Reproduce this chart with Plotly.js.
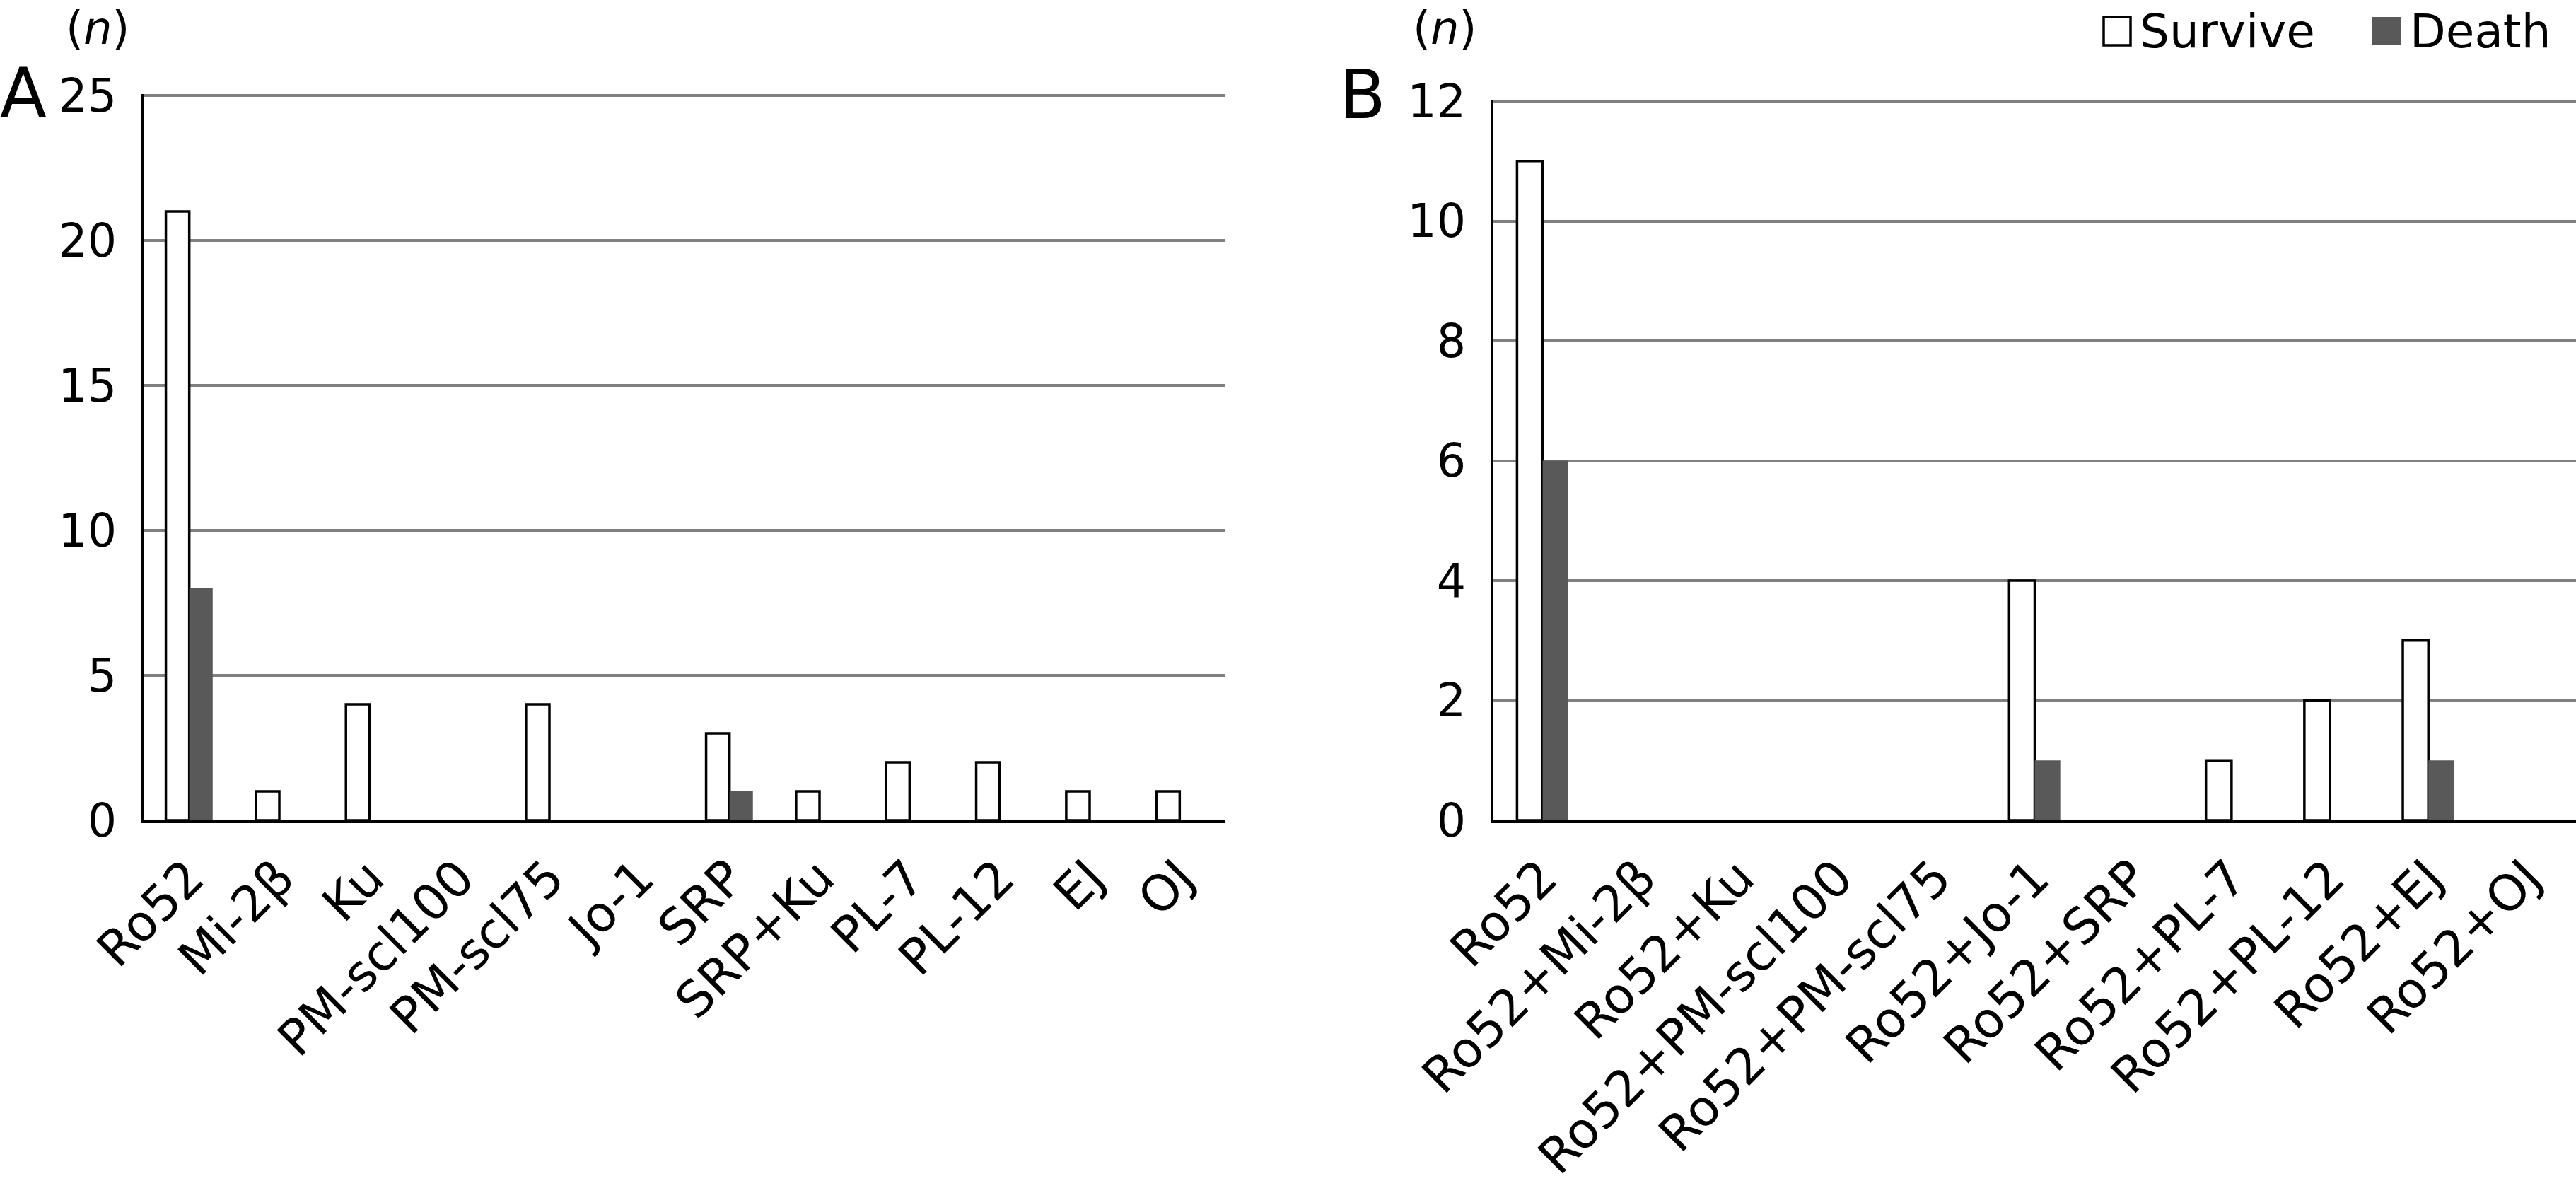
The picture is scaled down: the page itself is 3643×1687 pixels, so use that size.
<!DOCTYPE html>
<html>
<head>
<meta charset="utf-8">
<script src="https://cdn.plot.ly/plotly-3.0.1.min.js"></script>
<style>html,body{margin:0;padding:0;background:#fff;overflow:hidden;}#chart{width:3643px;height:1687px;}</style>
</head>
<body>
<div id="chart"></div>
<script>
// ---- data ----
const categoriesA = ['Ro52','Mi-2β','Ku','PM-scl100','PM-scl75','Jo-1','SRP','SRP+Ku','PL-7','PL-12','EJ','OJ'];
const surviveA = [21,1,4,0,4,0,3,1,2,2,1,1];
const deathA   = [8,0,0,0,0,0,1,0,0,0,0,0];

const categoriesB = ['Ro52','Ro52+Mi-2β','Ro52+Ku','Ro52+PM-scl100','Ro52+PM-scl75','Ro52+Jo-1','Ro52+SRP','Ro52+PL-7','Ro52+PL-12','Ro52+EJ','Ro52+OJ'];
const surviveB = [11,0,0,0,0,4,0,1,2,3,0];
const deathB   = [6,0,0,0,0,1,0,0,0,1,0];

const seriesNames = ['Survive','Death'];
const yTicksA = [0,5,10,15,20,25];
const yTicksB = [0,2,4,6,8,10,12];

// ---- layout helpers ----
const W = 3643, H = 1687;
const px = x => x / W;
const py = y => 1 - y / H;
const FONT = 'DejaVu Sans, Verdana, sans-serif';
const DEATH_COLOR = '#595959';
const GRID = '#808080';

// outline only for non-empty bars (zero-height bars show nothing in the reference)
const surviveStyle = vals => ({color: '#ffffff', line: {color: '#000000', width: vals.map(v => v > 0 ? 3.5 : 0)}});
const deathStyle = () => ({color: DEATH_COLOR, line: {color: DEATH_COLOR, width: 0}});

const traces = [
  {type: 'bar', x: categoriesA, y: surviveA, name: seriesNames[0], marker: surviveStyle(surviveA), xaxis: 'x', yaxis: 'y'},
  {type: 'bar', x: categoriesA, y: deathA, name: seriesNames[1], marker: deathStyle(), xaxis: 'x', yaxis: 'y'},
  {type: 'bar', x: categoriesB, y: surviveB, name: seriesNames[0], marker: surviveStyle(surviveB), xaxis: 'x2', yaxis: 'y2'},
  {type: 'bar', x: categoriesB, y: deathB, name: seriesNames[1], marker: deathStyle(), xaxis: 'x2', yaxis: 'y2'}
];

const xCommon = {
  type: 'category', showgrid: false, zeroline: false,
  showline: true, linecolor: '#000', linewidth: 4,
  ticks: '', tickangle: -45, ticklabelstandoff: 8,
  tickfont: {family: FONT, size: 70, color: '#000'},
  automargin: false, fixedrange: true
};
const yCommon = {
  showgrid: true, gridcolor: GRID, gridwidth: 4,
  zeroline: false, showline: true, linecolor: '#000', linewidth: 4,
  ticks: '', ticklabelstandoff: 22,
  tickfont: {family: FONT, size: 65, color: '#000'},
  automargin: false, fixedrange: true
};

const ann = (text, x, y, xanchor, size) => ({
  text: text, xref: 'paper', yref: 'paper', x: px(x), y: py(y),
  xanchor: xanchor, yanchor: 'middle', showarrow: false,
  font: {family: FONT, size: size, color: '#000'}
});

const layout = {
  width: W, height: H,
  margin: {l: 0, r: 0, t: 0, b: 0, pad: 0},
  paper_bgcolor: '#fff', plot_bgcolor: '#fff',
  font: {family: FONT, color: '#000'},
  barmode: 'group', bargap: 0.48, bargroupgap: 0,
  showlegend: false,
  xaxis: Object.assign({}, xCommon, {domain: [px(204), px(1732)], anchor: 'y'}),
  yaxis: Object.assign({}, yCommon, {domain: [py(1160), py(132.5)], range: [0, 25.06], tickvals: yTicksA, anchor: 'x'}),
  xaxis2: Object.assign({}, xCommon, {domain: [px(2112), 1], anchor: 'y2'}),
  yaxis2: Object.assign({}, yCommon, {domain: [py(1160), py(140.5)], range: [0, 12.03], tickvals: yTicksB, anchor: 'x2'}),
  shapes: [
    // legend swatches
    {type: 'rect', xref: 'paper', yref: 'paper', x0: px(2975), x1: px(3013), y0: py(64), y1: py(24),
     fillcolor: '#ffffff', line: {color: '#000', width: 3.5}},
    {type: 'rect', xref: 'paper', yref: 'paper', x0: px(3355), x1: px(3395), y0: py(64), y1: py(24),
     fillcolor: DEATH_COLOR, line: {width: 0}}
  ],
  annotations: [
    ann('A', 33, 132, 'center', 96),
    ann('B', 1927, 134, 'center', 96),
    ann('(<i>n</i>)', 138, 40, 'center', 64),
    ann('(<i>n</i>)', 2044, 40, 'center', 64),
    ann(seriesNames[0], 3024, 44, 'left', 66),
    ann(seriesNames[1], 3406, 44, 'left', 66)
  ]
};

Plotly.newPlot('chart', traces, layout, {staticPlot: true, displayModeBar: false});
</script>
</body>
</html>
